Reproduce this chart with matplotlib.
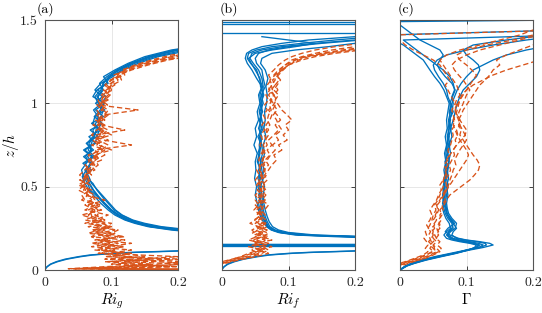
import numpy as np
import matplotlib
matplotlib.use("Agg")
import matplotlib.pyplot as plt

# ---- data ---------------------------------------------------------------
# panel (a): Ri_g profiles
ZA_LOW = [0, 0.01, 0.02, 0.035, 0.05, 0.065, 0.08, 0.09, 0.1, 0.106, 0.111, 0.115, 0.12]
A_LOW1 = [0, 0.001, 0.003, 0.008, 0.017, 0.03, 0.05, 0.067, 0.1, 0.13, 0.17, 0.2, 0.25]
A_LOW2 = [0, 0.0012, 0.0035, 0.009, 0.019, 0.033, 0.054, 0.072, 0.106, 0.138, 0.18, 0.21, 0.26]

ZA_B = [0.22, 0.24, 0.26, 0.28, 0.30, 0.33, 0.36, 0.40, 0.44, 0.48,
        0.52, 0.56, 0.60, 0.64, 0.68, 0.72, 0.76, 0.80, 0.84, 0.88,
        0.92, 0.96, 1.00, 1.04, 1.08, 1.12, 1.16, 1.20, 1.24, 1.28,
        1.32, 1.35]
A_B1 = [0.26, 0.20, 0.16, 0.14, 0.125, 0.11, 0.10, 0.09, 0.08, 0.072,
        0.066, 0.063, 0.062, 0.068, 0.061, 0.069, 0.066, 0.075, 0.072, 0.081,
        0.078, 0.085, 0.080, 0.075, 0.084, 0.088, 0.097, 0.110, 0.130, 0.160,
        0.200, 0.25]
A_B2 = [0.24, 0.19, 0.155, 0.135, 0.12, 0.105, 0.095, 0.084, 0.075, 0.066,
        0.060, 0.056, 0.062, 0.070, 0.058, 0.073, 0.062, 0.078, 0.082, 0.070,
        0.088, 0.076, 0.090, 0.072, 0.078, 0.095, 0.088, 0.105, 0.125, 0.150,
        0.190, 0.24]
A_B3 = [0.27, 0.21, 0.17, 0.145, 0.13, 0.115, 0.104, 0.095, 0.086, 0.078,
        0.072, 0.060, 0.070, 0.057, 0.072, 0.060, 0.076, 0.066, 0.084, 0.072,
        0.075, 0.090, 0.076, 0.086, 0.075, 0.084, 0.102, 0.115, 0.135, 0.165,
        0.21, 0.26]
A_B4 = [0.25, 0.195, 0.158, 0.138, 0.122, 0.108, 0.098, 0.088, 0.079, 0.068,
        0.064, 0.058, 0.055, 0.062, 0.070, 0.058, 0.074, 0.080, 0.068, 0.086,
        0.074, 0.083, 0.088, 0.078, 0.088, 0.082, 0.093, 0.108, 0.128, 0.155,
        0.195, 0.24]
A_B5 = [0.28, 0.22, 0.175, 0.15, 0.132, 0.116, 0.106, 0.097, 0.088, 0.079,
        0.070, 0.066, 0.060, 0.072, 0.064, 0.070, 0.063, 0.072, 0.079, 0.085,
        0.080, 0.073, 0.085, 0.092, 0.079, 0.092, 0.098, 0.118, 0.14, 0.17,
        0.22, 0.27]
A_B6 = [0.255, 0.205, 0.165, 0.142, 0.127, 0.112, 0.1, 0.09, 0.081, 0.073,
        0.067, 0.062, 0.066, 0.060, 0.074, 0.065, 0.070, 0.073, 0.077, 0.076,
        0.084, 0.088, 0.081, 0.080, 0.086, 0.087, 0.096, 0.112, 0.132, 0.158,
        0.2, 0.25]

ZA_O = [0.003, 0.008, 0.02, 0.035, 0.05, 0.065, 0.08, 0.10, 0.12, 0.14,
        0.16, 0.18, 0.20, 0.22, 0.24, 0.26, 0.28, 0.30, 0.33, 0.36,
        0.39, 0.42, 0.45, 0.48, 0.51, 0.54, 0.57, 0.60, 0.63, 0.66,
        0.69, 0.72, 0.75, 0.78, 0.81, 0.84, 0.87, 0.90, 0.93, 0.96,
        0.99, 1.02, 1.05, 1.08, 1.11, 1.14, 1.17, 1.20, 1.23, 1.26,
        1.29, 1.32]
A_O1 = [0.25, 0.05, 0.14, 0.21, 0.12, 0.16, 0.10, 0.11, 0.09, 0.12,
        0.08, 0.10, 0.095, 0.075, 0.09, 0.08, 0.07, 0.085, 0.065, 0.075,
        0.06, 0.07, 0.065, 0.058, 0.062, 0.055, 0.065, 0.07, 0.08, 0.075,
        0.09, 0.085, 0.078, 0.083, 0.09, 0.082, 0.088, 0.08, 0.092, 0.085,
        0.09, 0.087, 0.095, 0.10, 0.097, 0.105, 0.11, 0.12, 0.14, 0.17,
        0.20, 0.25]
A_O2 = [0.22, 0.04, 0.09, 0.17, 0.21, 0.11, 0.13, 0.08, 0.105, 0.085,
        0.11, 0.075, 0.12, 0.09, 0.07, 0.10, 0.085, 0.06, 0.08, 0.07,
        0.085, 0.06, 0.055, 0.07, 0.05, 0.063, 0.058, 0.075, 0.068, 0.085,
        0.073, 0.10, 0.08, 0.072, 0.085, 0.095, 0.079, 0.087, 0.083, 0.078,
        0.085, 0.092, 0.088, 0.094, 0.1, 0.098, 0.115, 0.125, 0.15, 0.18,
        0.22, 0.26]
A_O3 = [0.21, 0.035, 0.19, 0.10, 0.15, 0.21, 0.09, 0.13, 0.075, 0.10,
        0.09, 0.12, 0.07, 0.10, 0.11, 0.065, 0.09, 0.075, 0.095, 0.06,
        0.075, 0.055, 0.065, 0.05, 0.06, 0.068, 0.06, 0.065, 0.072, 0.07,
        0.082, 0.075, 0.13, 0.088, 0.07, 0.078, 0.09, 0.076, 0.088, 0.14,
        0.08, 0.095, 0.085, 0.092, 0.105, 0.1, 0.108, 0.118, 0.135, 0.16,
        0.19, 0.24]
A_O4 = [0.23, 0.06, 0.11, 0.16, 0.09, 0.19, 0.12, 0.095, 0.13, 0.07,
        0.10, 0.085, 0.11, 0.065, 0.08, 0.10, 0.06, 0.08, 0.055, 0.085,
        0.065, 0.09, 0.06, 0.065, 0.055, 0.06, 0.052, 0.06, 0.066, 0.078,
        0.07, 0.08, 0.086, 0.074, 0.1, 0.085, 0.08, 0.09, 0.078, 0.084,
        0.094, 0.085, 0.09, 0.1, 0.093, 0.11, 0.103, 0.125, 0.145, 0.175,
        0.21, 0.26]
A_O5 = [0.24, 0.08, 0.2, 0.13, 0.1, 0.14, 0.2, 0.085, 0.1, 0.11,
        0.07, 0.095, 0.085, 0.105, 0.075, 0.09, 0.1, 0.07, 0.07, 0.065,
        0.08, 0.065, 0.075, 0.06, 0.068, 0.052, 0.07, 0.062, 0.075, 0.065,
        0.078, 0.09, 0.07, 0.095, 0.08, 0.09, 0.072, 0.085, 0.095, 0.088,
        0.078, 0.09, 0.098, 0.088, 0.102, 0.115, 0.112, 0.13, 0.155, 0.185,
        0.23, 0.27]
A_O6 = [0.26, 0.045, 0.12, 0.22, 0.17, 0.09, 0.15, 0.12, 0.085, 0.095,
        0.13, 0.08, 0.07, 0.08, 0.105, 0.085, 0.075, 0.09, 0.075, 0.08,
        0.07, 0.075, 0.07, 0.065, 0.058, 0.066, 0.063, 0.068, 0.06, 0.07,
        0.065, 0.085, 0.095, 0.08, 0.077, 0.12, 0.085, 0.082, 0.09, 0.095,
        0.083, 0.08, 0.093, 0.097, 0.09, 0.1, 0.12, 0.115, 0.14, 0.165,
        0.2, 0.25]

# panel (b): Ri_f profiles
ZB_LOW = [0, 0.01, 0.02, 0.035, 0.05, 0.065, 0.08, 0.09, 0.1, 0.106, 0.111, 0.115, 0.12]
B_LOW1 = [0, 0.001, 0.003, 0.008, 0.017, 0.03, 0.05, 0.067, 0.1, 0.13, 0.17, 0.2, 0.25]
B_LOW2 = [0, 0.0012, 0.0035, 0.009, 0.019, 0.033, 0.054, 0.072, 0.106, 0.138, 0.18, 0.21, 0.26]
B_JUMPS = [0.146, 0.150, 0.154, 0.157, 1.424, 1.478, 1.49]

ZB_B = [0.19, 0.2, 0.21, 0.225, 0.24, 0.26, 0.29, 0.32, 0.36, 0.40,
        0.45, 0.50, 0.55, 0.60, 0.65, 0.70, 0.75, 0.80, 0.85, 0.90,
        0.95, 1.00, 1.05, 1.10, 1.15, 1.20, 1.24, 1.27, 1.30, 1.32,
        1.34, 1.36, 1.38, 1.40]
B_B1 = [0.26, 0.2, 0.12, 0.09, 0.078, 0.07, 0.066, 0.063, 0.06, 0.058,
        0.057, 0.056, 0.056, 0.057, 0.055, 0.057, 0.056, 0.058, 0.057, 0.058,
        0.059, 0.06, 0.061, 0.062, 0.06, 0.055, 0.047, 0.042, 0.045, 0.06,
        0.09, 0.14, 0.2, 0.28]
B_B2 = [0.24, 0.17, 0.11, 0.085, 0.074, 0.067, 0.062, 0.058, 0.055, 0.053,
        0.05, 0.052, 0.049, 0.051, 0.05, 0.053, 0.048, 0.052, 0.05, 0.055,
        0.053, 0.057, 0.055, 0.06, 0.052, 0.045, 0.038, 0.035, 0.037, 0.045,
        0.06, 0.09, 0.13, 0.2]
B_B3 = [0.28, 0.22, 0.14, 0.1, 0.085, 0.076, 0.071, 0.068, 0.065, 0.063,
        0.062, 0.064, 0.06, 0.063, 0.061, 0.064, 0.062, 0.066, 0.063, 0.065,
        0.064, 0.067, 0.068, 0.066, 0.069, 0.065, 0.058, 0.06, 0.075, 0.11,
        0.16, 0.2, 0.25, 0.3]
B_B4 = [0.25, 0.19, 0.115, 0.088, 0.075, 0.068, 0.064, 0.061, 0.058, 0.06,
        0.055, 0.059, 0.054, 0.058, 0.053, 0.056, 0.059, 0.054, 0.06, 0.056,
        0.061, 0.058, 0.063, 0.058, 0.057, 0.05, 0.044, 0.04, 0.05, 0.075,
        0.11, 0.14, 0.1, 0.06]
B_B5 = [0.27, 0.21, 0.13, 0.095, 0.08, 0.072, 0.068, 0.065, 0.062, 0.061,
        0.06, 0.058, 0.062, 0.06, 0.058, 0.061, 0.06, 0.056, 0.062, 0.06,
        0.057, 0.062, 0.059, 0.065, 0.062, 0.06, 0.052, 0.05, 0.055, 0.07,
        0.1, 0.15, 0.21, 0.27]
B_B6 = [0.255, 0.195, 0.118, 0.087, 0.076, 0.069, 0.065, 0.06, 0.057, 0.055,
        0.058, 0.054, 0.058, 0.055, 0.059, 0.054, 0.058, 0.06, 0.055, 0.059,
        0.056, 0.059, 0.057, 0.061, 0.056, 0.052, 0.043, 0.038, 0.04, 0.052,
        0.075, 0.12, 0.17, 0.23]

ZB_O = [0.04, 0.06, 0.08, 0.10, 0.12, 0.14, 0.16, 0.18, 0.20, 0.22,
        0.24, 0.26, 0.28, 0.30, 0.33, 0.36, 0.39, 0.42, 0.45, 0.48,
        0.51, 0.54, 0.57, 0.60, 0.63, 0.66, 0.69, 0.72, 0.75, 0.78,
        0.81, 0.84, 0.87, 0.90, 0.93, 0.96, 0.99, 1.02, 1.05, 1.08,
        1.11, 1.14, 1.17, 1.20, 1.23, 1.26, 1.28, 1.30, 1.32, 1.34,
        1.36, 1.38]
B_O1 = [-0.005, 0.015, 0.035, 0.05, 0.065, 0.055, 0.07, 0.05, 0.06, 0.045,
        0.055, 0.065, 0.05, 0.06, 0.052, 0.058, 0.05, 0.062, 0.055, 0.06,
        0.052, 0.058, 0.062, 0.056, 0.064, 0.06, 0.066, 0.062, 0.068, 0.065,
        0.07, 0.066, 0.072, 0.068, 0.07, 0.074, 0.071, 0.075, 0.07, 0.076,
        0.074, 0.08, 0.078, 0.085, 0.095, 0.11, 0.125, 0.15, 0.18, 0.22,
        0.27, 0.32]
B_O2 = [0.0, 0.02, 0.04, 0.055, 0.045, 0.065, 0.05, 0.075, 0.06, 0.07,
        0.058, 0.068, 0.062, 0.055, 0.065, 0.058, 0.064, 0.057, 0.062, 0.066,
        0.06, 0.068, 0.064, 0.07, 0.075, 0.082, 0.078, 0.09, 0.085, 0.098,
        0.092, 0.1, 0.095, 0.105, 0.098, 0.09, 0.085, 0.08, 0.085, 0.078,
        0.083, 0.088, 0.082, 0.09, 0.1, 0.115, 0.13, 0.16, 0.2, 0.25,
        0.3, 0.35]
B_O3 = [-0.01, 0.01, 0.03, 0.045, 0.06, 0.04, 0.055, 0.045, 0.065, 0.05,
        0.045, 0.055, 0.042, 0.05, 0.058, 0.048, 0.055, 0.05, 0.06, 0.053,
        0.058, 0.05, 0.056, 0.052, 0.06, 0.055, 0.058, 0.062, 0.057, 0.061,
        0.058, 0.064, 0.06, 0.066, 0.062, 0.068, 0.064, 0.07, 0.066, 0.072,
        0.068, 0.074, 0.07, 0.078, 0.085, 0.095, 0.105, 0.12, 0.14, 0.17,
        0.21, 0.26]
B_O4 = [0.005, 0.025, 0.05, 0.07, 0.055, 0.075, 0.06, 0.065, 0.05, 0.058,
        0.068, 0.052, 0.06, 0.066, 0.056, 0.064, 0.07, 0.06, 0.066, 0.058,
        0.064, 0.06, 0.067, 0.063, 0.07, 0.065, 0.072, 0.068, 0.075, 0.07,
        0.078, 0.085, 0.08, 0.088, 0.083, 0.076, 0.08, 0.073, 0.078, 0.074,
        0.08, 0.076, 0.085, 0.092, 0.1, 0.12, 0.14, 0.17, 0.21, 0.26,
        0.31, 0.36]
B_O5 = [-0.005, 0.012, 0.028, 0.04, 0.055, 0.047, 0.06, 0.04, 0.052, 0.062,
        0.05, 0.06, 0.055, 0.048, 0.06, 0.052, 0.06, 0.055, 0.05, 0.058,
        0.054, 0.062, 0.058, 0.065, 0.06, 0.068, 0.073, 0.08, 0.076, 0.085,
        0.08, 0.09, 0.085, 0.082, 0.077, 0.083, 0.078, 0.072, 0.078, 0.07,
        0.075, 0.072, 0.08, 0.088, 0.095, 0.105, 0.12, 0.14, 0.165, 0.2,
        0.24, 0.29]
B_O6 = [0.0, 0.018, 0.045, 0.06, 0.07, 0.06, 0.048, 0.058, 0.07, 0.055,
        0.062, 0.056, 0.066, 0.06, 0.052, 0.062, 0.058, 0.065, 0.058, 0.064,
        0.06, 0.055, 0.06, 0.058, 0.056, 0.062, 0.06, 0.065, 0.062, 0.066,
        0.064, 0.07, 0.066, 0.072, 0.075, 0.07, 0.077, 0.082, 0.078, 0.084,
        0.08, 0.086, 0.083, 0.09, 0.1, 0.11, 0.125, 0.155, 0.19, 0.24,
        0.29, 0.34]

# panel (c): Gamma profiles
ZC_B = [0.0, 0.01, 0.025, 0.04, 0.06, 0.08, 0.10, 0.12, 0.135, 0.15,
        0.16, 0.17, 0.18, 0.19, 0.21, 0.23, 0.25, 0.28, 0.31, 0.34,
        0.37, 0.40, 0.45, 0.50, 0.55, 0.60, 0.65, 0.70, 0.75, 0.80,
        0.85, 0.90, 0.95, 1.00, 1.04, 1.08, 1.12, 1.16, 1.20, 1.23,
        1.26, 1.29, 1.32, 1.35, 1.38, 1.41, 1.44, 1.47, 1.49, 1.50]
C_B1 = [0, 0.003, 0.009, 0.018, 0.035, 0.055, 0.08, 0.105, 0.125, 0.14,
        0.135, 0.12, 0.1, 0.088, 0.075, 0.068, 0.072, 0.082, 0.076, 0.07,
        0.068, 0.066, 0.067, 0.065, 0.067, 0.068, 0.07, 0.069, 0.071, 0.072,
        0.074, 0.075, 0.078, 0.08, 0.078, 0.082, 0.08, 0.075, 0.065, 0.055,
        0.045, 0.035, 0.025, 0.015, 0.005, 0.25, 0.3, 0.3, 0.3, 0.3]
C_B2 = [0, 0.004, 0.01, 0.02, 0.037, 0.058, 0.082, 0.1, 0.115, 0.12,
        0.11, 0.095, 0.083, 0.075, 0.07, 0.074, 0.08, 0.078, 0.072, 0.068,
        0.066, 0.064, 0.066, 0.068, 0.066, 0.07, 0.068, 0.072, 0.07, 0.074,
        0.072, 0.076, 0.074, 0.078, 0.082, 0.086, 0.092, 0.1, 0.11, 0.125,
        0.14, 0.16, 0.19, 0.23, 0.3, 0.3, 0.3, 0.3, 0.3, 0.3]
C_B3 = [0, 0.003, 0.008, 0.017, 0.033, 0.052, 0.076, 0.1, 0.12, 0.13,
        0.128, 0.115, 0.098, 0.085, 0.078, 0.08, 0.085, 0.08, 0.074, 0.071,
        0.07, 0.068, 0.07, 0.072, 0.07, 0.072, 0.074, 0.072, 0.075, 0.073,
        0.077, 0.074, 0.08, 0.076, 0.072, 0.07, 0.065, 0.058, 0.052, 0.05,
        0.056, 0.07, 0.1, 0.14, 0.19, 0.25, 0.3, 0.3, 0.3, 0.3]
C_B4 = [0, 0.004, 0.011, 0.022, 0.04, 0.062, 0.085, 0.103, 0.112, 0.115,
        0.105, 0.09, 0.078, 0.07, 0.066, 0.07, 0.076, 0.074, 0.069, 0.066,
        0.064, 0.066, 0.064, 0.066, 0.068, 0.066, 0.069, 0.067, 0.07, 0.068,
        0.071, 0.07, 0.072, 0.074, 0.07, 0.066, 0.06, 0.052, 0.045, 0.04,
        0.035, 0.025, 0.015, 0.005, -0.01, -0.02, 0.25, 0.3, 0.3, 0.3]
C_B5 = [0, 0.0035, 0.0095, 0.019, 0.036, 0.056, 0.08, 0.102, 0.118, 0.125,
        0.118, 0.105, 0.09, 0.08, 0.072, 0.076, 0.083, 0.085, 0.078, 0.073,
        0.071, 0.07, 0.072, 0.07, 0.073, 0.071, 0.073, 0.076, 0.074, 0.078,
        0.076, 0.08, 0.083, 0.086, 0.09, 0.095, 0.105, 0.115, 0.12, 0.118,
        0.11, 0.1, 0.095, 0.11, 0.16, 0.22, 0.3, 0.3, 0.3, 0.3]
C_B6 = [0, 0.004, 0.01, 0.021, 0.038, 0.06, 0.083, 0.102, 0.114, 0.118,
        0.112, 0.1, 0.086, 0.077, 0.071, 0.073, 0.078, 0.08, 0.075, 0.07,
        0.069, 0.067, 0.068, 0.067, 0.069, 0.07, 0.068, 0.071, 0.073, 0.071,
        0.074, 0.073, 0.076, 0.075, 0.079, 0.083, 0.078, 0.068, 0.06, 0.056,
        0.06, 0.065, 0.06, 0.045, 0.03, 0.02, 0.01, 0.0, -0.01, 0.25]

ZC_O = [0.03, 0.05, 0.07, 0.09, 0.11, 0.13, 0.15, 0.17, 0.19, 0.21,
        0.23, 0.25, 0.27, 0.30, 0.33, 0.36, 0.39, 0.42, 0.45, 0.48,
        0.51, 0.54, 0.57, 0.60, 0.63, 0.66, 0.69, 0.72, 0.75, 0.78,
        0.81, 0.84, 0.87, 0.90, 0.93, 0.96, 0.99, 1.02, 1.05, 1.08,
        1.11, 1.14, 1.17, 1.20, 1.23, 1.26, 1.29, 1.32, 1.35, 1.38,
        1.41, 1.44, 1.47, 1.50]
C_O1 = [-0.005, 0.012, 0.028, 0.04, 0.048, 0.052, 0.05, 0.047, 0.045, 0.043,
        0.046, 0.042, 0.045, 0.048, 0.05, 0.054, 0.052, 0.057, 0.06, 0.063,
        0.066, 0.065, 0.07, 0.068, 0.072, 0.07, 0.074, 0.072, 0.076, 0.078,
        0.08, 0.078, 0.082, 0.08, 0.084, 0.086, 0.088, 0.09, 0.093, 0.1,
        0.11, 0.125, 0.14, 0.16, 0.185, 0.21, 0.25, 0.3, 0.3, 0.3,
        0.3, 0.3, 0.3, 0.3]
C_O2 = [0.0, 0.015, 0.032, 0.045, 0.055, 0.05, 0.045, 0.05, 0.055, 0.052,
        0.058, 0.055, 0.06, 0.058, 0.063, 0.06, 0.066, 0.07, 0.075, 0.085,
        0.095, 0.105, 0.112, 0.118, 0.12, 0.116, 0.11, 0.105, 0.1, 0.095,
        0.09, 0.092, 0.088, 0.09, 0.087, 0.09, 0.094, 0.097, 0.1, 0.105,
        0.1, 0.095, 0.088, 0.082, 0.078, 0.085, 0.1, 0.12, 0.15, 0.18,
        0.21, 0.25, 0.3, 0.3]
C_O3 = [-0.01, 0.008, 0.022, 0.035, 0.042, 0.038, 0.042, 0.04, 0.036, 0.04,
        0.038, 0.043, 0.04, 0.045, 0.048, 0.045, 0.05, 0.055, 0.058, 0.062,
        0.06, 0.065, 0.068, 0.07, 0.066, 0.072, 0.075, 0.08, 0.085, 0.092,
        0.098, 0.1, 0.095, 0.09, 0.086, 0.082, 0.085, 0.08, 0.076, 0.072,
        0.068, 0.075, 0.07, 0.065, 0.06, 0.05, 0.035, 0.02, 0.008, 0.0,
        -0.01, 0.25, 0.3, 0.3]
C_O4 = [0.005, 0.02, 0.036, 0.048, 0.058, 0.062, 0.056, 0.06, 0.054, 0.058,
        0.055, 0.06, 0.057, 0.062, 0.06, 0.065, 0.063, 0.068, 0.066, 0.07,
        0.073, 0.075, 0.078, 0.08, 0.084, 0.082, 0.086, 0.09, 0.095, 0.1,
        0.098, 0.094, 0.09, 0.088, 0.085, 0.083, 0.086, 0.09, 0.095, 0.1,
        0.105, 0.11, 0.115, 0.108, 0.1, 0.09, 0.085, 0.1, 0.13, 0.17,
        0.2, 0.24, 0.3, 0.3]
C_O5 = [-0.005, 0.01, 0.025, 0.038, 0.05, 0.045, 0.048, 0.043, 0.047, 0.05,
        0.048, 0.052, 0.05, 0.055, 0.053, 0.057, 0.055, 0.06, 0.064, 0.068,
        0.07, 0.068, 0.073, 0.076, 0.074, 0.078, 0.082, 0.08, 0.085, 0.083,
        0.087, 0.085, 0.09, 0.088, 0.092, 0.095, 0.1, 0.105, 0.11, 0.115,
        0.12, 0.128, 0.135, 0.14, 0.15, 0.145, 0.16, 0.18, 0.2, 0.22,
        0.25, 0.3, 0.3, 0.3]
C_O6 = [0.0, 0.018, 0.038, 0.05, 0.06, 0.055, 0.05, 0.055, 0.05, 0.048,
        0.05, 0.047, 0.052, 0.05, 0.055, 0.058, 0.056, 0.062, 0.066, 0.07,
        0.075, 0.08, 0.085, 0.09, 0.095, 0.1, 0.103, 0.1, 0.095, 0.09,
        0.086, 0.083, 0.08, 0.082, 0.08, 0.078, 0.082, 0.085, 0.09, 0.088,
        0.085, 0.08, 0.075, 0.07, 0.065, 0.06, 0.07, 0.09, 0.12, 0.15,
        0.18, 0.2, 0.22, 0.25]

PANEL_TAGS = ["(a)", "(b)", "(c)"]
X_LABELS = [r"$Ri_g$", r"$Ri_f$", r"$\Gamma$"]
X_TICKS = [0, 0.1, 0.2]
X_TICKLABELS = ["0", "0.1", "0.2"]
Y_TICKS = [0, 0.5, 1, 1.5]
Y_TICKLABELS = ["0", "0.5", "1", "1.5"]

# ---- style -----------------------------------------------------------------
plt.rcParams["font.family"] = "serif"
plt.rcParams["font.serif"] = ["cmr10", "DejaVu Serif"]
plt.rcParams["mathtext.fontset"] = "cm"
plt.rcParams["axes.formatter.use_mathtext"] = True
BLUE, ORANGE = "#0072BD", "#D95319"
LW = 0.95
DASH = (0, (4, 2.2))

fig = plt.figure(figsize=(5.42, 3.13), dpi=100)
lefts = [45 / 542, 222 / 542, 400 / 542]
axes = [fig.add_axes([l, 43 / 313, 133 / 542, 250 / 313]) for l in lefts]

panels = [
    (ZA_LOW, [A_LOW1, A_LOW2], ZA_B, [A_B1, A_B2, A_B3, A_B4, A_B5, A_B6],
     ZA_O, [A_O1, A_O2, A_O3, A_O4, A_O5, A_O6], []),
    (ZB_LOW, [B_LOW1, B_LOW2], ZB_B, [B_B1, B_B2, B_B3, B_B4, B_B5, B_B6],
     ZB_O, [B_O1, B_O2, B_O3, B_O4, B_O5, B_O6], B_JUMPS),
    (None, [], ZC_B, [C_B1, C_B2, C_B3, C_B4, C_B5, C_B6],
     ZC_O, [C_O1, C_O2, C_O3, C_O4, C_O5, C_O6], []),
]

for i, (ax, (zl, lows, zb, blues, zo, oranges, jumps)) in enumerate(zip(axes, panels)):
    ax.grid(True, color="#e3e3e3", lw=0.6)
    ax.set_axisbelow(True)
    for x in lows:
        ax.plot(x, zl, color=BLUE, lw=LW)
    for x in blues:
        ax.plot(x, zb, color=BLUE, lw=LW)
    for z in jumps:
        ax.axhline(z, color=BLUE, lw=LW)
    for x in oranges:
        ax.plot(x, zo, color=ORANGE, lw=LW, ls=DASH)
    ax.set_xlim(0, 0.2)
    ax.set_ylim(0, 1.5)
    ax.set_xticks(X_TICKS, X_TICKLABELS)
    ax.set_yticks(Y_TICKS, Y_TICKLABELS if i == 0 else [])
    ax.tick_params(direction="in", length=3, width=0.6, top=True, right=True,
                   labelsize=10, colors="#262626", pad=5)
    for sp in ax.spines.values():
        sp.set_color("#555555")
        sp.set_linewidth(0.8)
    ax.set_xlabel(X_LABELS[i], fontsize=11, labelpad=2)
    ax.text(-0.06 if i == 0 else -0.015, 1.015, PANEL_TAGS[i], transform=ax.transAxes,
            fontsize=10, va="bottom", ha="left")

axes[0].set_ylabel(r"$z/h$", fontsize=11)
axes[0].yaxis.set_label_coords(-0.18, 0.5)

fig.savefig("out.png", dpi=100)
